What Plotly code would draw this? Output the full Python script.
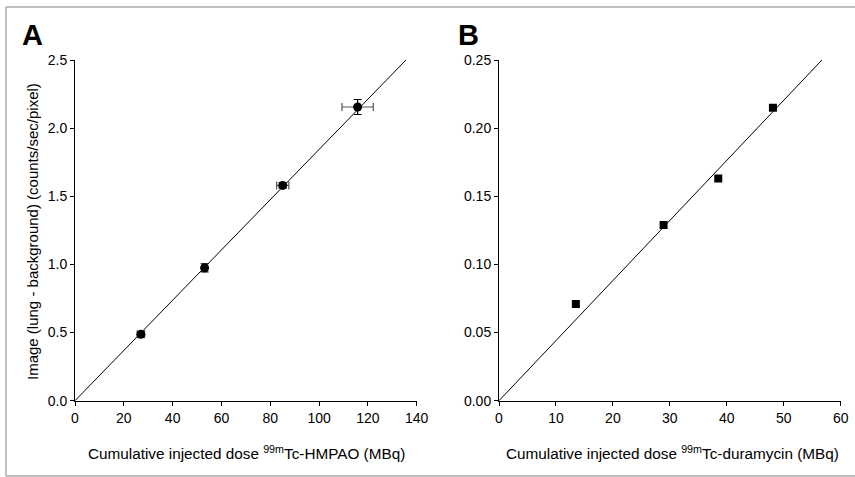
import plotly.graph_objects as go

# Panel A data (99mTc-HMPAO)
hmpao_dose = [27.0, 53.1, 85.1, 115.8]
hmpao_signal = [0.487, 0.975, 1.580, 2.155]
hmpao_dose_err = [1.5, 1.0, 2.5, 6.4]
hmpao_signal_err = [0.02, 0.03, 0.02, 0.055]
hmpao_fit_x = [0, 135.6]
hmpao_fit_y = [0, 2.5]

# Panel B data (99mTc-duramycin)
dura_dose = [13.5, 28.9, 38.5, 48.1]
dura_signal = [0.071, 0.129, 0.163, 0.215]
dura_fit_x = [0, 56.7]
dura_fit_y = [0, 0.25]

W, H = 855, 477
FONT = "Liberation Sans, Arial, sans-serif"

fig = go.Figure()

fig.add_trace(go.Scatter(
    x=hmpao_fit_x, y=hmpao_fit_y, mode="lines",
    line=dict(color="black", width=1), xaxis="x", yaxis="y", showlegend=False))
fig.add_trace(go.Scatter(
    x=hmpao_dose, y=hmpao_signal, mode="markers",
    marker=dict(symbol="circle", size=9, color="black"),
    error_x=dict(type="data", array=hmpao_dose_err, color="#555", thickness=1.2, width=4),
    error_y=dict(type="data", array=hmpao_signal_err, color="black", thickness=1.2, width=4),
    xaxis="x", yaxis="y", showlegend=False))

fig.add_trace(go.Scatter(
    x=dura_fit_x, y=dura_fit_y, mode="lines",
    line=dict(color="black", width=1), xaxis="x2", yaxis="y2", showlegend=False))
fig.add_trace(go.Scatter(
    x=dura_dose, y=dura_signal, mode="markers",
    marker=dict(symbol="square", size=8, color="black"),
    xaxis="x2", yaxis="y2", showlegend=False))

axcommon = dict(showline=True, linecolor="black", linewidth=1, ticks="outside",
                ticklen=4, tickcolor="black", showgrid=False, zeroline=False,
                automargin=False,
                tickfont=dict(family=FONT, size=14, color="black"))

y0 = (H - 400.7) / H
y1 = (H - 60) / H

fig.update_layout(
    width=W, height=H,
    margin=dict(l=0, r=0, t=0, b=0, autoexpand=False),
    paper_bgcolor="white", plot_bgcolor="white",
    font=dict(family=FONT, size=14, color="black"),
    xaxis=dict(domain=[75 / W, 416.7 / W], range=[0, 140], dtick=20, anchor="y",
               **axcommon),
    yaxis=dict(domain=[y0, y1], range=[0, 2.5], dtick=0.5, tickformat=".1f", anchor="x",
               **axcommon),
    xaxis2=dict(domain=[499 / W, 840.7 / W], range=[0, 60], dtick=10, anchor="y2",
                **axcommon),
    yaxis2=dict(domain=[y0, y1], range=[0, 0.25], dtick=0.05, tickformat=".2f", anchor="x2",
                **axcommon),
)

annotations = [
    dict(text="<b>A</b>", x=20 / W, y=(H - 35) / H, xanchor="left", yanchor="middle",
         font=dict(size=29, family=FONT)),
    dict(text="<b>B</b>", x=456 / W, y=(H - 35) / H, xanchor="left", yanchor="middle",
         font=dict(size=29, family=FONT)),
    dict(text="Cumulative injected dose <sup>99m</sup>Tc-HMPAO (MBq)", x=247 / W,
         y=(H - 452) / H, xanchor="center", yanchor="middle", font=dict(size=15.3, family=FONT)),
    dict(text="Cumulative injected dose <sup>99m</sup>Tc-duramycin (MBq)", x=672 / W,
         y=(H - 452) / H, xanchor="center", yanchor="middle", font=dict(size=15.3, family=FONT)),
    dict(text="Image (lung - background) (counts/sec/pixel)", x=32 / W, y=(H - 232) / H,
         xanchor="center", yanchor="middle", textangle=-90, font=dict(size=15, family=FONT)),
]
for a in annotations:
    a.update(xref="paper", yref="paper", showarrow=False)
fig.update_layout(annotations=annotations)

border = dict(color="#aaa", width=1.5)
fig.update_layout(shapes=[
    dict(type="line", xref="paper", yref="paper", x0=6 / W, x1=1, y0=(H - 7) / H,
         y1=(H - 7) / H, line=border, layer="below"),
    dict(type="line", xref="paper", yref="paper", x0=6 / W, x1=6 / W, y0=(H - 476) / H,
         y1=(H - 7) / H, line=border, layer="below"),
    dict(type="line", xref="paper", yref="paper", x0=6 / W, x1=1, y0=(H - 476) / H,
         y1=(H - 476) / H, line=border, layer="below"),
])

fig.write_html("out.html", config={"displayModeBar": False},
               post_script="document.body.style.margin='0';document.body.style.overflow='hidden';")
